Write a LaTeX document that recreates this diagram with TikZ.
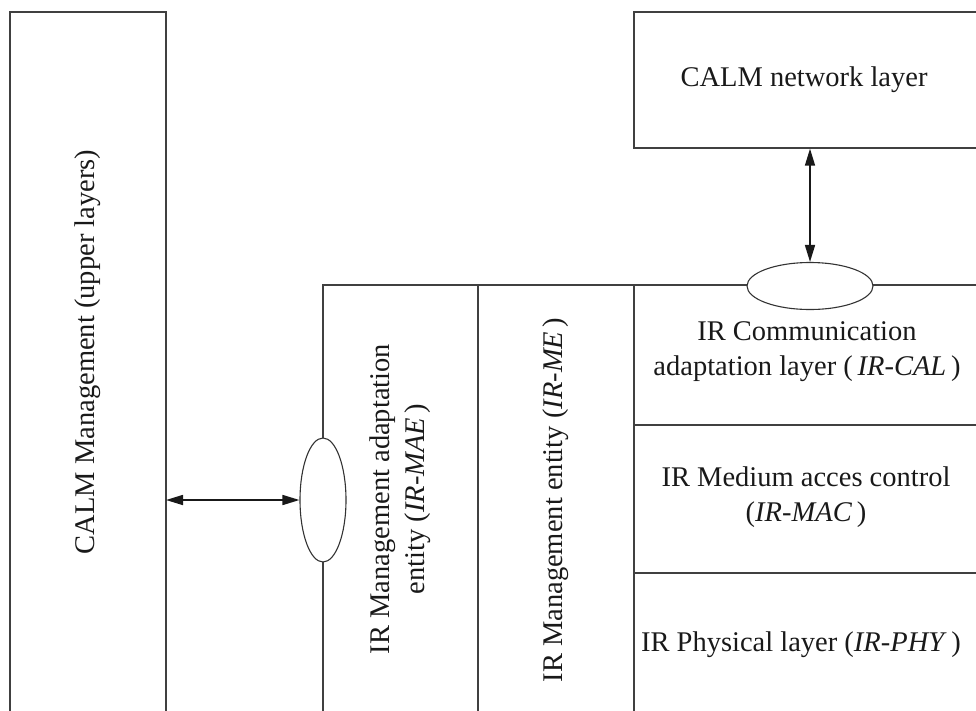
\documentclass[tikz,border=0pt]{standalone}
\usepackage{fontspec}
\setmainfont{Liberation Serif}
\usetikzlibrary{arrows.meta,shapes.geometric}
\begin{document}
\begin{tikzpicture}[x=1pt,y=-1pt,
  frame/.style={draw=black!75,line width=1.3pt},
  lbl/.style={font=\fontsize{28.5}{35}\selectfont,text=black!90,inner sep=0pt,align=center},
  oval/.style={draw=black!80,line width=1.1pt,ellipse,fill=white,inner sep=0pt},
  biarrow/.style={draw=black!90,line width=1.6pt,{Triangle[length=17pt,width=10pt]}-{Triangle[length=17pt,width=10pt]}}
]
\useasboundingbox (0,0) rectangle (976,710);
% left box (open at bottom)
\coordinate (lbl1) at (10,716);
\coordinate (lbtl) at (10,12);
\coordinate (lbtr) at (166,12);
\coordinate (lbr1) at (166,716);
\draw[frame] (lbl1) -- (lbtl) -- (lbtr) -- (lbr1);
\node[lbl,rotate=90] (calmmgmt) at (88,352) {CALM Management (upper layers)};
% CALM network box
\node[frame,rectangle,minimum width=351pt,minimum height=136pt,inner sep=0pt] (net) at (809.5,80) {};
\node[lbl] (nettxt) at (804,80) {CALM network layer};
% IR stack frame
\coordinate (ta) at (323,716);
\coordinate (tb) at (323,285);
\coordinate (tc) at (990,285);
\draw[frame] (ta) -- (tb) -- (tc);
\coordinate (v2t) at (478,285);
\coordinate (v2b) at (478,716);
\draw[frame] (v2t) -- (v2b);
\coordinate (v3t) at (634,285);
\coordinate (v3b) at (634,716);
\draw[frame] (v3t) -- (v3b);
\coordinate (h1l) at (634,425);
\coordinate (h1r) at (990,425);
\coordinate (h2l) at (634,573);
\coordinate (h2r) at (990,573);
\draw[frame] (h1l) -- (h1r);
\draw[frame] (h2l) -- (h2r);
% ellipses (SAPs)
\node[oval,minimum width=126pt,minimum height=47pt] (sapnet) at (810,286) {};
\node[oval,minimum width=46pt,minimum height=124pt] (sapmgmt) at (323,500) {};
% arrows
\draw[biarrow] (net.south -| sapnet.north) -- (sapnet.north);
\coordinate (lbarrow) at (166,500);
\draw[biarrow] (lbarrow) -- (sapmgmt.west);
% texts
\node[lbl,rotate=90] (mae) at (400,499) {IR Management adaptation\\entity (\textit{IR-MAE}\,)};
\node[lbl,rotate=90] (me) at (556,500) {IR Management entity (\textit{IR-ME}\,)};
\node[lbl] (cal) at (807,352) {IR Communication\\adaptation layer (\,\textit{IR-CAL}\,)};
\node[lbl] (mac) at (806,497) {IR Medium acces control\\(\textit{IR-MAC}\,)};
\node[lbl] (phy) at (801,645) {IR Physical layer (\textit{IR-PHY}\,)};
\end{tikzpicture}
\end{document}
